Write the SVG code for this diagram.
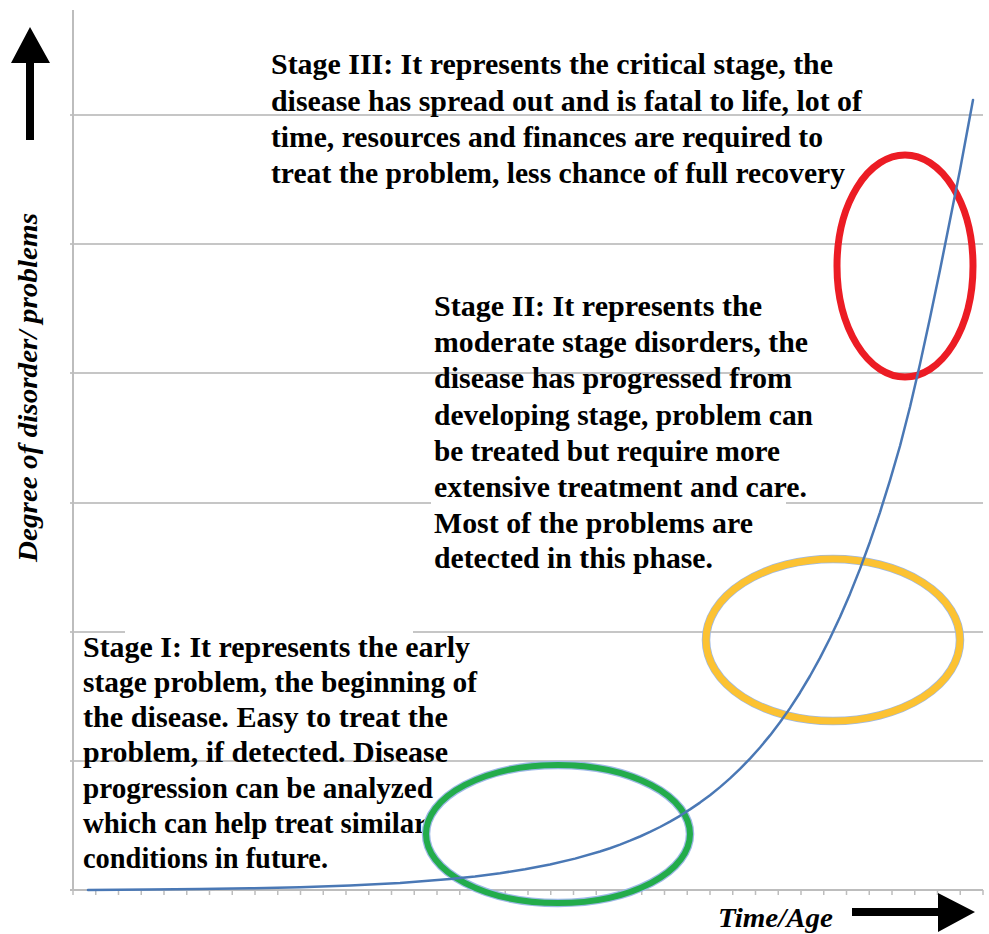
<svg xmlns="http://www.w3.org/2000/svg" width="989" height="934" viewBox="0 0 989 934">
<style>
.grid{stroke:#c6c6c6;stroke-width:2;fill:none}
.axis{stroke:#bdbdbd;stroke-width:2;fill:none}
.tick{stroke:#bdbdbd;stroke-width:1.5}
.st{font-family:"Liberation Serif","Times New Roman",serif;font-weight:bold;font-size:29px;fill:#000}
.ax{font-family:"Liberation Serif","Times New Roman",serif;font-weight:bold;font-style:italic;font-size:27px;fill:#000}
.curve{fill:none;stroke:#4a78b5;stroke-width:2.5;stroke-linejoin:round;stroke-linecap:round}
.halo{fill:none;stroke:#9db8e6;stroke-width:8.5}
</style>
<rect width="989" height="934" fill="#ffffff"/>
<g id="grid">
<line class="grid" x1="70" y1="115" x2="983" y2="115"/>
<line class="grid" x1="70" y1="244" x2="983" y2="244"/>
<line class="grid" x1="70" y1="373" x2="983" y2="373"/>
<line class="grid" x1="70" y1="503" x2="431" y2="503"/>
<line class="grid" x1="786" y1="503" x2="983" y2="503"/>
<line class="grid" x1="70" y1="632" x2="125" y2="632"/>
<line class="grid" x1="413" y1="632" x2="983" y2="632"/>
<line class="grid" x1="70" y1="761" x2="983" y2="761"/>
</g>
<g id="axes">
<line class="axis" x1="73" y1="10" x2="73" y2="890"/>
<line class="axis" x1="70" y1="890" x2="983" y2="890"/>
<path class="tick" d="M73 890v5M95.75 890v5M118.5 890v5M141.25 890v5M164 890v5M186.75 890v5M209.5 890v5M232.25 890v5M255 890v5M277.75 890v5M300.5 890v5M323.25 890v5M346 890v5M368.75 890v5M391.5 890v5M414.25 890v5M437 890v5M459.75 890v5M482.5 890v5M505.25 890v5M528 890v5M550.75 890v5M573.5 890v5M596.25 890v5M619 890v5M641.75 890v5M664.5 890v5M687.25 890v5M710 890v5M732.75 890v5M755.5 890v5M778.25 890v5M801 890v5M823.75 890v5M846.5 890v5M869.25 890v5M892 890v5M914.75 890v5M937.5 890v5M960.25 890v5M983 890v5"/>
</g>
<g id="stage1">
<text class="st" x="83" y="657" textLength="387" lengthAdjust="spacingAndGlyphs">Stage I: It represents the early</text>
<text class="st" x="83" y="692" textLength="394" lengthAdjust="spacingAndGlyphs">stage problem, the beginning of</text>
<text class="st" x="83" y="727" textLength="365" lengthAdjust="spacingAndGlyphs">the disease. Easy to treat the</text>
<text class="st" x="83" y="762" textLength="365" lengthAdjust="spacingAndGlyphs">problem, if detected. Disease</text>
<text class="st" x="83" y="798" textLength="350" lengthAdjust="spacingAndGlyphs">progression can be analyzed</text>
<text class="st" x="83" y="833" textLength="344" lengthAdjust="spacingAndGlyphs">which can help treat similar</text>
<text class="st" x="83" y="868" textLength="245" lengthAdjust="spacingAndGlyphs">conditions in future.</text>
</g>
<g id="stage2">
<text class="st" x="434" y="316" textLength="328" lengthAdjust="spacingAndGlyphs">Stage II: It represents the</text>
<text class="st" x="434" y="352" textLength="374" lengthAdjust="spacingAndGlyphs">moderate stage disorders, the</text>
<text class="st" x="434" y="388" textLength="358" lengthAdjust="spacingAndGlyphs">disease has progressed from</text>
<text class="st" x="434" y="425" textLength="379" lengthAdjust="spacingAndGlyphs">developing stage, problem can</text>
<text class="st" x="434" y="461" textLength="346" lengthAdjust="spacingAndGlyphs">be treated but require more</text>
<text class="st" x="434" y="497" textLength="373" lengthAdjust="spacingAndGlyphs">extensive treatment and care.</text>
<text class="st" x="434" y="533" textLength="319" lengthAdjust="spacingAndGlyphs">Most of the problems are</text>
<text class="st" x="434" y="568" textLength="279" lengthAdjust="spacingAndGlyphs">detected in this phase.</text>
</g>
<g id="stage3">
<text class="st" x="271" y="74" textLength="562" lengthAdjust="spacingAndGlyphs">Stage III: It represents the critical stage, the</text>
<text class="st" x="271" y="111" textLength="591" lengthAdjust="spacingAndGlyphs">disease has spread out and is fatal to life, lot of</text>
<text class="st" x="271" y="147" textLength="552" lengthAdjust="spacingAndGlyphs">time, resources and finances are required to</text>
<text class="st" x="271" y="183" textLength="574" lengthAdjust="spacingAndGlyphs">treat the problem, less chance of full recovery</text>
</g>
<g id="ellipse-green">
<ellipse class="halo" cx="558" cy="834" rx="132" ry="69"/>
<ellipse cx="558" cy="834" rx="132" ry="69" fill="none" stroke="#23ac4b" stroke-width="6"/>
</g>
<g id="ellipse-yellow">
<ellipse class="halo" cx="833" cy="640" rx="127" ry="81"/>
<ellipse cx="833" cy="640" rx="127" ry="81" fill="none" stroke="#fcc232" stroke-width="7"/>
</g>
<g id="ellipse-red">
<ellipse cx="905" cy="266" rx="68" ry="111" fill="none" stroke="#ec1c24" stroke-width="7"/>
</g>
<g id="curve">
<polyline class="curve" points="88,890 150,889.6 200,889.1 250,888.3 300,887.2 350,885.5 400,882.9 450,879 475,876.4 500,873.2 525,869.3 550,864.5 575,858.6 600,851.5 610,848.2 620,844.6 630,840.7 640,836.5 650,831.9 660,827 670,821.6 680,815.8 690,809.4 700,802.6 710,795.2 720,787.1 730,778.4 740,768.9 750,758.6 760,747.5 770,735.4 780,722.3 790,708.1 800,692.7 810,676 820,657.9 830,638.3 840,617 850,593.9 860,568.9 870,541.7 880,512.3 890,480.4 900,446 910,407 920,364 930,318 940,270 950,220 960,170 973,100"/>
</g>
<g id="connectors">
<path d="M26 140V63H11L30 27L50 63H34V140Z" fill="#000"/>
<path d="M852 908H938V893L975 912L938 932V916H852Z" fill="#000"/>
</g>
<g id="axis-labels">
<text class="ax" x="718" y="927" textLength="115" lengthAdjust="spacingAndGlyphs">Time/Age</text>
<text class="ax" transform="translate(37,562) rotate(-90)" x="0" y="0" textLength="349" lengthAdjust="spacingAndGlyphs">Degree of disorder/ problems</text>
</g>
</svg>
